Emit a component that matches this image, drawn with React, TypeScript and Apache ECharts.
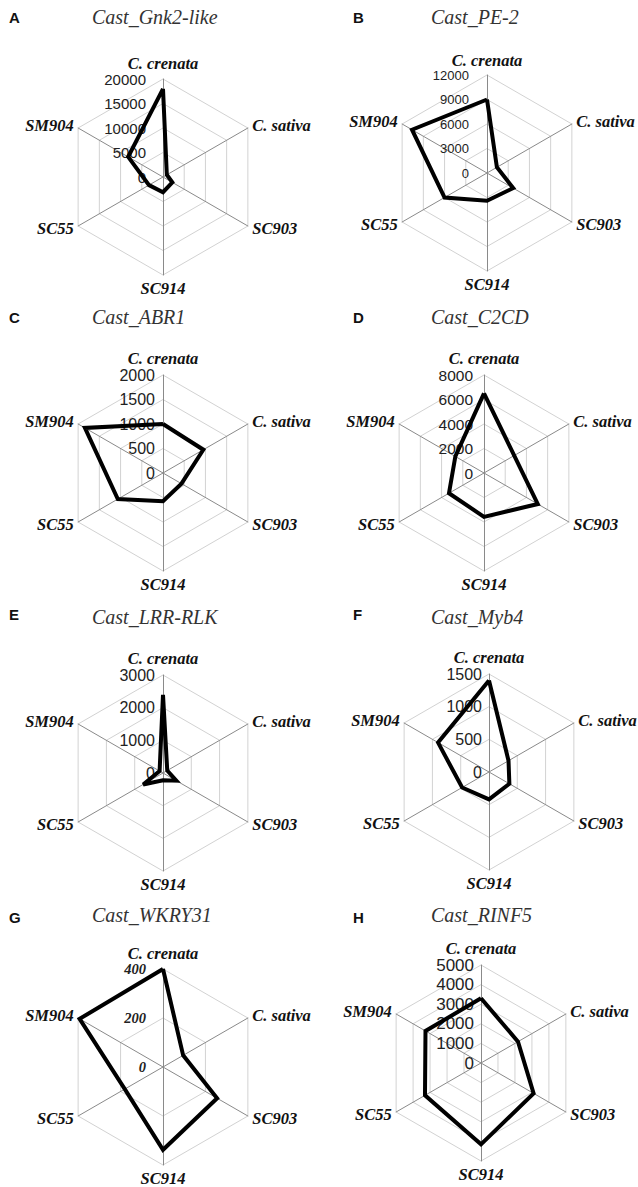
import React, { useEffect, useRef } from "react";
import * as echarts from "echarts";

// ---------- data ----------
// categories in clockwise order starting at the top
const categories = ["C. crenata", "C. sativa", "SC903", "SC914", "SC55", "SM904"];
const panelLetters = ["A", "B", "C", "D", "E", "F", "G", "H"];
const geneNames = [
  "Cast_Gnk2-like",
  "Cast_PE-2",
  "Cast_ABR1",
  "Cast_C2CD",
  "Cast_LRR-RLK",
  "Cast_Myb4",
  "Cast_WKRY31",
  "Cast_RINF5",
];
const gnk2Values = [18000, 900, 2200, 3100, 3300, 8200];
const pe2Values = [9000, 1400, 3700, 3400, 6000, 10600];
const abr1Values = [1000, 950, 435, 575, 1065, 1840];
const c2cdValues = [6500, 2850, 5070, 3580, 3300, 2700];
const lrrValues = [2390, 150, 470, 220, 700, 120];
const myb4Values = [1400, 345, 360, 420, 475, 900];
const wkryValues = [400, 95, 255, 338, 180, 393];
const rinf5Values = [3300, 2180, 3100, 4150, 3300, 3270];
const allValues = [gnk2Values, pe2Values, abr1Values, c2cdValues, lrrValues, myb4Values, wkryValues, rinf5Values];
const axisMax = [20000, 12000, 2000, 8000, 3000, 1500, 400, 5000];
const axisSplits = [4, 4, 4, 4, 3, 3, 2, 5];

// ---------- layout ----------
const W = 638;
const H = 1187;
const centers = [
  [163, 177],
  [487, 173],
  [163, 473],
  [484, 473],
  [163, 773],
  [489, 772],
  [163, 1067],
  [481, 1063],
];
const RADIUS = 98;
const titleLeft = [87, 426];
const titleTop = [2, 302, 602, 900];
const letterLeft = [4, 348];
const letterTop = [5, 305, 602, 905];
const labelMargin = [17, 18, 8, 11, 8, 7, 17, 7];
const labelSize = [15, 13, 16, 15.5, 16, 16, 14.5, 17];
const SERIF = "'Liberation Serif', 'Times New Roman', serif";
const SANS = "'Liberation Sans', Arial, sans-serif";

// ECharts places indicators counter-clockwise; reorder so the picture reads clockwise
const ecOrder = [0, 5, 4, 3, 2, 1];

export default function App() {
  const ref = useRef<HTMLDivElement>(null);

  useEffect(() => {
    document.body.style.margin = "0";
    if (!ref.current) return;
    const chart = echarts.init(ref.current, undefined, { renderer: "svg" });

    const titles: any[] = [];
    geneNames.forEach((g, i) => {
      const col = i % 2;
      const row = Math.floor(i / 2);
      titles.push({
        text: g,
        left: titleLeft[col],
        top: titleTop[row],
        textStyle: {
          fontFamily: SERIF,
          fontStyle: "italic",
          fontWeight: "normal",
          fontSize: 20,
          color: "#333",
        },
      });
      titles.push({
        text: panelLetters[i],
        left: letterLeft[col],
        top: letterTop[row],
        textStyle: {
          fontFamily: SANS,
          fontWeight: "bold",
          fontSize: 15,
          color: "#111",
        },
      });
    });

    const radars = geneNames.map((_, i) => {
      const serifLabel = i === 6;
      return {
        center: centers[i],
        radius: RADIUS,
        startAngle: 90,
        shape: "polygon",
        splitNumber: axisSplits[i],
        nameGap: 5,
        axisName: {
          color: "#111",
          fontFamily: SERIF,
          fontStyle: "italic",
          fontWeight: "bold",
          fontSize: 16.5,
        },
        indicator: ecOrder.map((ci, k) => {
          const ind: any = { name: categories[ci], min: 0, max: axisMax[i] };
          if (k === 0) {
            ind.axisLabel = {
              show: true,
              margin: labelMargin[i],
              fontSize: labelSize[i],
              fontFamily: serifLabel ? SERIF : SANS,
              fontStyle: serifLabel ? "italic" : "normal",
              fontWeight: serifLabel ? "bold" : "normal",
              color: "#222",
              formatter: (v: number) => String(v),
            };
          }
          return ind;
        }),
        axisLine: { show: true, lineStyle: { color: "#8a8a8a", width: 1 } },
        splitLine: { show: true, lineStyle: { color: "#d2d2d2", width: 1 } },
        splitArea: { show: false },
        axisTick: { show: false },
        axisLabel: { show: false },
      };
    });

    const series = allValues.map((vals, i) => ({
      type: "radar",
      radarIndex: i,
      symbol: "none",
      silent: true,
      lineStyle: { color: "#000", width: 4, join: "miter", miterLimit: 4 },
      itemStyle: { color: "#000" },
      data: [{ value: ecOrder.map((ci) => vals[ci]), name: geneNames[i] }],
    }));

    chart.setOption({
      animation: false,
      backgroundColor: "#fff",
      title: titles,
      radar: radars,
      series,
    });

    return () => {
      chart.dispose();
    };
  }, []);

  return <div ref={ref} style={{ width: W, height: H }} />;
}
